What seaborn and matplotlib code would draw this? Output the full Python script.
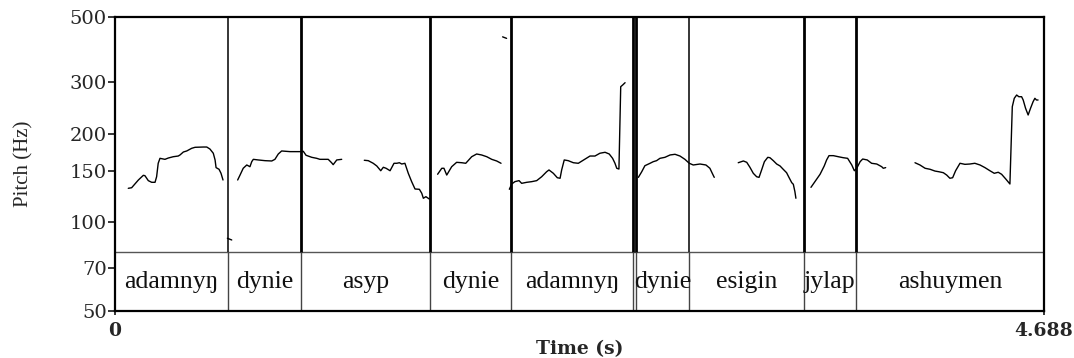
import numpy as np
import pandas as pd
import matplotlib
matplotlib.use("Agg")
import matplotlib.pyplot as plt
import seaborn as sns

# ---------------- data ----------------
x_max = 4.688
y_ticks = [50, 70, 100, 150, 200, 300, 500]

# pitch contour segments (time in s, pitch in Hz)
seg1_t = [0.067, 0.084, 0.118, 0.143, 0.151, 0.168, 0.185, 0.202, 0.210, 0.218, 0.227, 0.252, 0.269, 0.294,
          0.319, 0.328, 0.345, 0.362, 0.387, 0.404, 0.446, 0.463, 0.479, 0.496, 0.505, 0.510, 0.525, 0.535, 0.545]
seg1_hz = [130.7, 131.3, 139.5, 144.7, 144.3, 138.8, 137.0, 137.0, 143.1, 159.0, 165.3, 164.0, 165.7, 167.4,
           168.3, 169.7, 173.7, 175.1, 178.8, 180.2, 180.6, 180.6, 177.8, 172.0, 163.2, 153.7, 151.7, 147.0, 139.5]

seg2_t = [0.567, 0.589]
seg2_hz = [88.4, 87.2]

seg3_t = [0.619, 0.631, 0.647, 0.665, 0.681, 0.690, 0.698, 0.723, 0.757, 0.791, 0.807, 0.824, 0.841, 0.883,
          0.934, 0.950, 0.964, 0.993, 1.018, 1.034, 1.076, 1.093, 1.101, 1.119, 1.144]
seg3_hz = [139.5, 145.0, 152.9, 156.9, 154.8, 161.0, 164.0, 163.2, 162.3, 161.9, 164.0, 171.0, 175.1, 174.2,
           174.2, 174.7, 169.3, 166.6, 165.3, 164.0, 164.0, 159.7, 157.3, 163.2, 164.0]

seg4_t = [1.258, 1.278, 1.303, 1.321, 1.341, 1.354, 1.368, 1.388, 1.408, 1.422, 1.435, 1.447, 1.463, 1.480,
          1.497, 1.514, 1.536, 1.548, 1.556, 1.569, 1.586]
seg4_hz = [162.8, 162.3, 159.0, 155.7, 150.0, 154.1, 152.9, 150.0, 159.0, 159.0, 159.7, 158.1, 159.0, 147.0,
           137.7, 130.0, 129.7, 125.7, 120.9, 122.4, 120.2]

seg5_t = [1.628, 1.649, 1.660, 1.674, 1.699, 1.724, 1.750, 1.770, 1.800, 1.825, 1.850, 1.876, 1.901, 1.926, 1.948]
seg5_hz = [145.9, 152.9, 152.9, 145.0, 154.8, 160.2, 159.7, 159.0, 167.4, 171.0, 169.7, 167.4, 164.0, 161.9, 159.0]

seg6_t = [1.956, 1.976]
seg6_hz = [428.0, 423.0]

seg7_t = [1.990, 2.002, 2.018, 2.039, 2.052, 2.078, 2.103, 2.128, 2.153, 2.178, 2.190, 2.212, 2.232, 2.246,
          2.254, 2.267, 2.287, 2.313, 2.338, 2.372, 2.397, 2.422, 2.447, 2.473, 2.494, 2.511, 2.523, 2.532,
          2.543, 2.552, 2.562, 2.574]
seg7_hz = [129.7, 135.2, 137.7, 138.8, 135.9, 137.0, 137.7, 138.8, 143.1, 148.8, 150.9, 147.0, 142.0, 141.4,
           150.9, 163.2, 162.3, 159.7, 159.0, 164.3, 168.3, 168.3, 172.0, 173.3, 171.0, 165.3, 159.0, 152.9,
           152.0, 289.7, 293.6, 298.9]

seg8_t = [2.641, 2.658, 2.674, 2.700, 2.716, 2.733, 2.750, 2.775, 2.801, 2.826, 2.851, 2.876, 2.898, 2.918,
          2.952, 2.982, 3.002, 3.014, 3.024]
seg8_hz = [142.4, 148.8, 156.0, 159.0, 161.0, 162.3, 165.3, 166.6, 169.7, 170.6, 168.3, 164.0, 159.0, 156.9,
           158.1, 156.9, 152.9, 147.0, 142.4]

seg9_t = [3.145, 3.171, 3.188, 3.204, 3.221, 3.238, 3.250, 3.263, 3.277, 3.294, 3.305, 3.322, 3.339, 3.356,
          3.372, 3.389, 3.401, 3.415, 3.423, 3.431, 3.436]
seg9_hz = [159.7, 161.9, 160.2, 154.1, 147.0, 143.1, 142.4, 150.9, 161.0, 166.6, 166.1, 162.3, 158.1, 155.7,
           151.7, 147.7, 142.4, 136.6, 134.9, 127.3, 120.9]

seg10_t = [3.512, 3.532, 3.558, 3.579, 3.591, 3.603, 3.625, 3.650, 3.675, 3.697, 3.718, 3.731, 3.743, 3.760,
           3.773, 3.796, 3.818, 3.844, 3.869, 3.877, 3.889]
seg10_hz = [131.7, 137.7, 145.9, 155.7, 163.2, 168.8, 168.8, 167.4, 166.1, 165.3, 156.9, 150.0, 152.9, 161.0,
            164.4, 163.2, 159.0, 158.1, 154.8, 152.9, 153.7]

seg11_t = [4.037, 4.062, 4.088, 4.113, 4.138, 4.158, 4.180, 4.197, 4.213, 4.227, 4.242, 4.264, 4.289, 4.314,
           4.339, 4.365, 4.390, 4.415, 4.437, 4.457, 4.474, 4.495, 4.516, 4.528, 4.538, 4.550, 4.561, 4.575,
           4.583, 4.595, 4.608, 4.620, 4.633, 4.642, 4.650, 4.658]
seg11_hz = [159.7, 156.9, 152.9, 151.7, 149.6, 148.8, 147.7, 145.0, 141.4, 142.0, 150.0, 159.0, 157.7, 158.1,
            159.0, 156.9, 153.7, 150.0, 147.0, 148.2, 145.9, 140.6, 135.2, 247.7, 264.5, 271.4, 267.8, 267.8,
            261.0, 244.6, 232.1, 244.6, 257.6, 264.5, 261.0, 261.0]

# word tier
boundaries = [0.570, 0.939, 1.590, 1.998, 2.615, 2.628, 2.897, 3.478, 3.738]
words = ["adamnyŋ", "dynie", "asyp", "dynie", "adamnyŋ", "", "dynie", "esigin", "jylap", "ashuymen"]

# ---------------- build frame ----------------
segments = [(seg1_t, seg1_hz), (seg2_t, seg2_hz), (seg3_t, seg3_hz), (seg4_t, seg4_hz), (seg5_t, seg5_hz),
            (seg6_t, seg6_hz), (seg7_t, seg7_hz), (seg8_t, seg8_hz), (seg9_t, seg9_hz), (seg10_t, seg10_hz),
            (seg11_t, seg11_hz)]
rows = []
for i, (ts, hs) in enumerate(segments):
    for t, h in zip(ts, hs):
        rows.append({"time": t, "pitch": h, "seg": i})
df = pd.DataFrame(rows)

# ---------------- style ----------------
sns.set_style("white")
plt.rcParams["font.family"] = ["DejaVu Serif", "Liberation Serif"]

fig = plt.figure(figsize=(10.74, 3.58), dpi=100)
ax = fig.add_axes([115 / 1074, 1 - 311 / 358, 929 / 1074, 294 / 358])

sns.lineplot(data=df, x="time", y="pitch", units="seg", estimator=None, sort=False,
             color="black", linewidth=1.0, ax=ax, legend=False)

ax.set_yscale("log")
ax.set_ylim(50, 500)
ax.set_xlim(0, x_max)

tier_top = 0.2  # fraction of the axes occupied by the text tier
ax.plot([0, 1], [tier_top, tier_top], transform=ax.transAxes, color="#555555", lw=1.0)

thick = [False, True, True, True, True, True, False, True, True]
xt = ax.get_xaxis_transform()
for b, th in zip(boundaries, thick):
    ax.vlines(b, tier_top, 1, transform=xt, color="black", lw=2.0 if th else 1.1)
    ax.vlines(b, 0, tier_top, transform=xt, color="#444444", lw=1.0)

edges = [0.0] + boundaries + [x_max]
for w, a, b in zip(words, edges[:-1], edges[1:]):
    if w:
        ax.text((a + b) / 2, 0.077, w, transform=xt, ha="center", va="baseline",
                fontsize=18.5, family=["Liberation Serif", "DejaVu Serif"], color="#111111")

# axes ticks
ax.set_yticks(y_ticks)
ax.set_yticklabels([str(v) for v in y_ticks])
ax.yaxis.set_minor_locator(matplotlib.ticker.NullLocator())
ax.set_xticks([0, x_max])
ax.set_xticklabels(["0", "4.688"], fontweight="bold")
ax.tick_params(axis="y", direction="out", length=5, width=1.3, pad=1, labelsize=14, left=True)
ax.tick_params(axis="x", direction="out", length=3, width=1.3, pad=5, labelsize=13.5, bottom=True)
for sp in ax.spines.values():
    sp.set_linewidth(1.6)
    sp.set_color("black")

ax.set_xlabel("Time (s)", fontsize=13.5, fontweight="bold")
ax.xaxis.set_label_coords(0.5, -0.10)
ax.set_ylabel("Pitch (Hz)", fontsize=15, family=["Liberation Serif", "DejaVu Serif"])
ax.yaxis.set_label_coords(-0.088, 0.5)

fig.savefig("out.png", dpi=100)
